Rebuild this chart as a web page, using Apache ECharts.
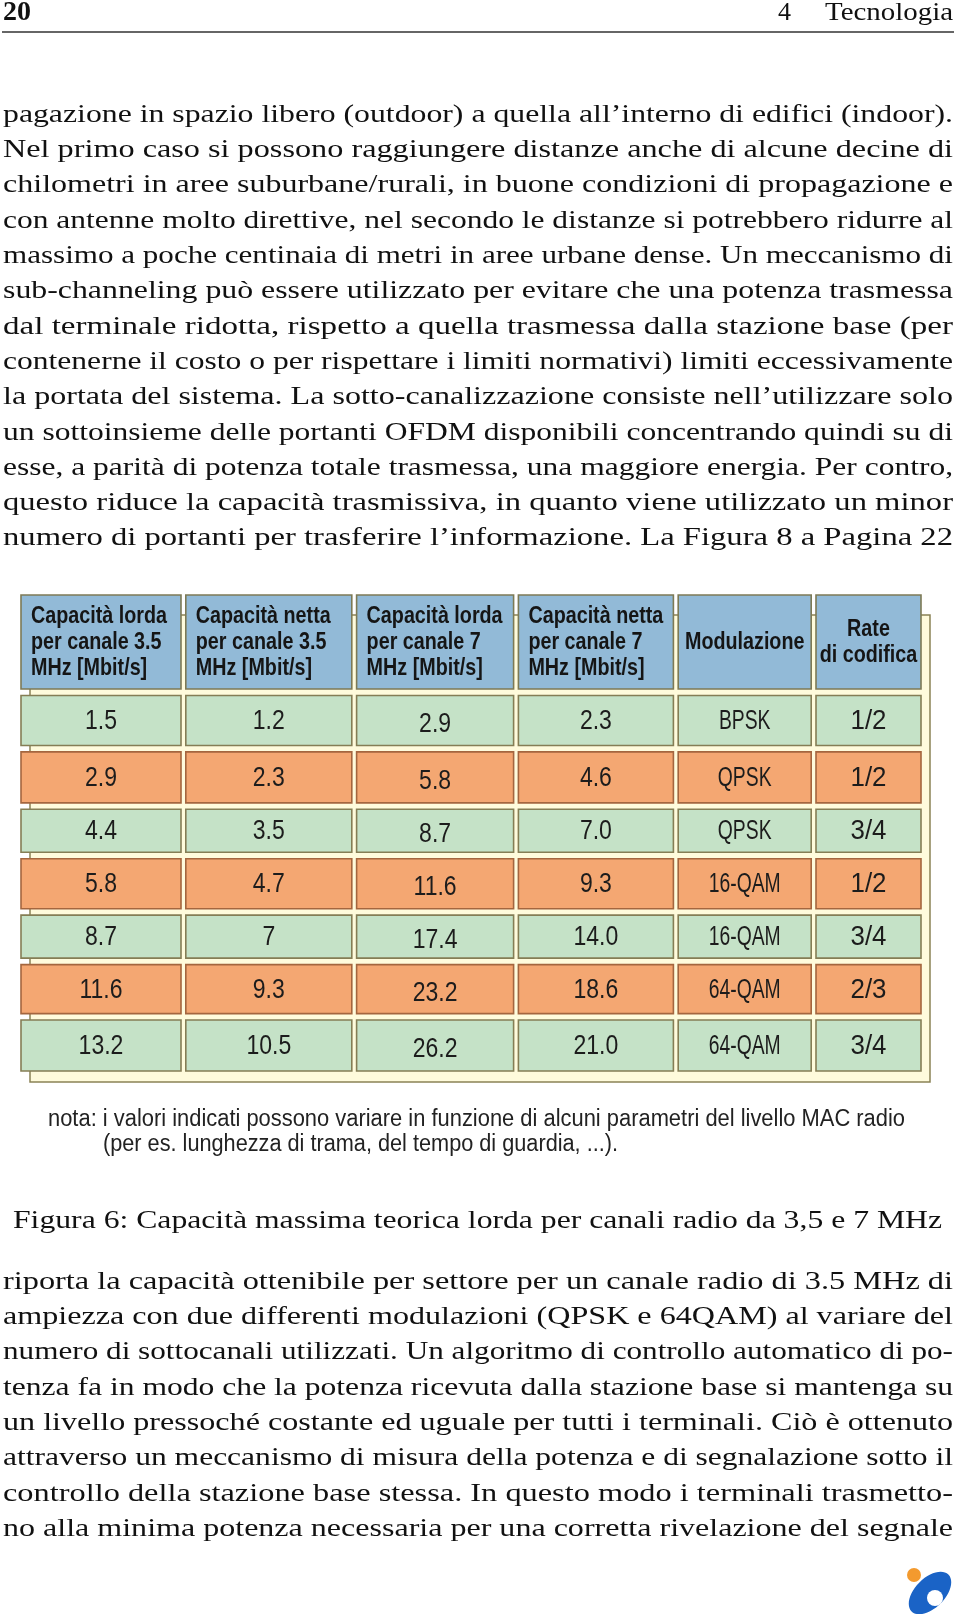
<!DOCTYPE html>
<html><head><meta charset="utf-8">
<script src="https://cdn.jsdelivr.net/npm/echarts@6/dist/echarts.min.js"></script>
<style>html,body{margin:0;padding:0;background:#fff}#c{width:960px;height:1614px}</style>
</head><body><div id="c"></div>
<script>
// ---------- text content ----------
const pageNumber = '20';
const runningChapter = '4';
const runningTitle = 'Tecnologia';
const textAbove = [
  'pagazione in spazio libero (outdoor) a quella all\u2019interno di edifici (indoor).',
  'Nel primo caso si possono raggiungere distanze anche di alcune decine di',
  'chilometri in aree suburbane/rurali, in buone condizioni di propagazione e',
  'con antenne molto direttive, nel secondo le distanze si potrebbero ridurre al',
  'massimo a poche centinaia di metri in aree urbane dense. Un meccanismo di',
  'sub-channeling pu\u00f2 essere utilizzato per evitare che una potenza trasmessa',
  'dal terminale ridotta, rispetto a quella trasmessa dalla stazione base (per',
  'contenerne il costo o per rispettare i limiti normativi) limiti eccessivamente',
  'la portata del sistema. La sotto-canalizzazione consiste nell\u2019utilizzare solo',
  'un sottoinsieme delle portanti OFDM disponibili concentrando quindi su di',
  'esse, a parit\u00e0 di potenza totale trasmessa, una maggiore energia. Per contro,',
  'questo riduce la capacit\u00e0 trasmissiva, in quanto viene utilizzato un minor',
  'numero di portanti per trasferire l\u2019informazione. La Figura 8 a Pagina 22'
];
const caption = 'Figura 6: Capacit\u00e0 massima teorica lorda per canali radio da 3,5 e 7 MHz';
const textBelow = [
  'riporta la capacit\u00e0 ottenibile per settore per un canale radio di 3.5 MHz di',
  'ampiezza con due differenti modulazioni (QPSK e 64QAM) al variare del',
  'numero di sottocanali utilizzati. Un algoritmo di controllo automatico di po-',
  'tenza fa in modo che la potenza ricevuta dalla stazione base si mantenga su',
  'un livello pressoch\u00e9 costante ed uguale per tutti i terminali. Ci\u00f2 \u00e8 ottenuto',
  'attraverso un meccanismo di misura della potenza e di segnalazione sotto il',
  'controllo della stazione base stessa. In questo modo i terminali trasmetto-',
  'no alla minima potenza necessaria per una corretta rivelazione del segnale'
];
const noteLines = [
  'nota: i valori indicati possono variare in funzione di alcuni parametri del livello MAC radio',
  '(per es. lunghezza di trama, del tempo di guardia, ...).'
];

// ---------- table data ----------
const headers = [
  'Capacit\u00e0 lorda\nper canale 3.5\nMHz [Mbit/s]',
  'Capacit\u00e0 netta\nper canale 3.5\nMHz [Mbit/s]',
  'Capacit\u00e0 lorda\nper canale 7\nMHz [Mbit/s]',
  'Capacit\u00e0 netta\nper canale 7\nMHz [Mbit/s]',
  'Modulazione',
  'Rate\ndi codifica'
];
const lorda35 = ['1.5', '2.9', '4.4', '5.8', '8.7', '11.6', '13.2'];
const netta35 = ['1.2', '2.3', '3.5', '4.7', '7', '9.3', '10.5'];
const lorda7  = ['2.9', '5.8', '8.7', '11.6', '17.4', '23.2', '26.2'];
const netta7  = ['2.3', '4.6', '7.0', '9.3', '14.0', '18.6', '21.0'];
const modulazione = ['BPSK', 'QPSK', 'QPSK', '16-QAM', '16-QAM', '64-QAM', '64-QAM'];
const rateCodifica = ['1/2', '1/2', '3/4', '1/2', '3/4', '2/3', '3/4'];

// ---------- layout (styles / sizes) ----------
const colW = [160, 166, 157, 155, 133, 105];
const colGap = 4.8;
const rowH = [94, 50, 51, 43, 50, 43, 49, 51];
const rowGap = 6.43;
const colStart = []; { let s = 0; colW.forEach(w => { colStart.push(s); s += w + colGap; }); }
const rowStart = []; { let s = 0; rowH.forEach(h => { rowStart.push(s); s += h + rowGap; }); }
const tableW = colStart[5] + colW[5];
const tableH = rowStart[7] + rowH[7];

const mctx = document.createElement('canvas').getContext('2d');
function measure(t, font) { mctx.font = font; return mctx.measureText(t).width; }
function capHeight(font) { mctx.font = font; const m = mctx.measureText('H'); return m.actualBoundingBoxAscent || 0; }
function hasFont(name) {
  const s = 'abcdefghijklmnopqrstuvwxyzABCDEFGHIJKLMNOP0123456789';
  return ['monospace', 'serif', 'sans-serif'].some(g => measure(s, '40px "' + name + '",' + g) !== measure(s, '40px ' + g));
}
function pick(list, generic) {
  for (const n of list) if (hasFont(n)) return '"' + n + '",' + generic;
  return generic;
}
const SERIF = pick(['Liberation Serif', 'Tinos', 'Times New Roman', 'Nimbus Roman', 'FreeSerif', 'Noto Serif', 'DejaVu Serif'], 'serif');
const SANS = pick(['Liberation Sans Narrow', 'Arial Narrow', 'Liberation Sans', 'Arimo', 'Arial', 'Roboto', 'Noto Sans', 'DejaVu Sans Condensed'], 'sans-serif');

// body size chosen so capitals are ~17px tall, like the reference
let bodySize = 26;
{ const ch = capHeight('100px ' + SERIF); if (ch > 40) bodySize = Math.round(17 / (ch / 100) * 2) / 2; }
const bodyFont = bodySize + 'px ' + SERIF;

function fitText(t, x0, x1, midY, font, fill) {
  const w = measure(t, font);
  return {
    type: 'text', x: x0, y: midY, scaleX: (x1 - x0) / w, z: 5,
    style: { text: t, font: font, fill: fill, align: 'left', verticalAlign: 'middle' }
  };
}

const graphics = [];
// running head
graphics.push({ type: 'text', x: 3, y: 13, z: 5, style: { text: pageNumber, font: 'bold ' + (bodySize + 2) + 'px ' + SERIF, fill: '#111', verticalAlign: 'middle' } });
graphics.push({ type: 'text', x: 778, y: 13, z: 5, style: { text: runningChapter, font: bodyFont, fill: '#111', verticalAlign: 'middle' } });
graphics.push(fitText(runningTitle, 825, 953, 13, bodyFont, '#111'));
graphics.push({ type: 'line', z: 5, shape: { x1: 2, y1: 32, x2: 954, y2: 32 }, style: { stroke: '#333', lineWidth: 1.6 } });
// paragraphs
textAbove.forEach((t, i) => graphics.push(fitText(t, 3, 953, 115 + i * 35.3, bodyFont, '#111')));
textBelow.forEach((t, i) => graphics.push(fitText(t, 3, 953, 1282 + i * 35.3, bodyFont, '#111')));
graphics.push(fitText(caption, 13, 942, 1221, bodyFont, '#111'));
// note
const noteFont = '23px ' + SANS;
graphics.push(fitText(noteLines[0], 48, 905, 1120, noteFont, '#222'));
graphics.push(fitText(noteLines[1], 103, 618, 1145, noteFont, '#222'));
// cream panel behind the table
graphics.push({ type: 'rect', z: 0, shape: { x: 30, y: 615, width: 900, height: 467 }, style: { fill: '#fffbdc', stroke: '#8a8256', lineWidth: 1.5 } });
// logo
graphics.push({ type: 'ellipse', z: 5, x: 930, y: 1593, rotation: Math.PI / 4, shape: { cx: 0, cy: 0, rx: 26, ry: 15 }, style: { fill: '#1a63c6' } });
graphics.push({ type: 'circle', z: 6, shape: { cx: 935, cy: 1598, r: 8 }, style: { fill: '#ffffff' } });
graphics.push({ type: 'circle', z: 6, shape: { cx: 914, cy: 1575, r: 7 }, style: { fill: '#f39a2e' } });

// ---------- table cells ----------
const headFont = 'bold 24px ' + SANS;
const headScale = 136 / measure('Capacit\u00e0 lorda', headFont);
const cellFont = '27px ' + SANS;
const numScale = 32 / measure('1.5', cellFont);
const modScale = 72 / measure('16-QAM', cellFont);
const rateScale = 36 / measure('1/2', cellFont);
const colScale = [numScale, numScale, numScale, numScale, modScale, rateScale];

const columns = [lorda35, netta35, lorda7, netta7, modulazione, rateCodifica];
const cells = [];
headers.forEach((h, c) => cells.push({ value: [c, 0], text: h, kind: 'header' }));
for (let r = 0; r < lorda35.length; r++) {
  columns.forEach((col, c) => cells.push({ value: [c, r + 1], text: col[r], kind: r % 2 === 0 ? 'green' : 'orange' }));
}
const fills = { header: '#92bad7', green: '#c5e2c7', orange: '#f4a772' };
const strokes = { header: '#7d7a55', green: '#857e55', orange: '#a4663f' };

function renderItem(params, api) {
  const item = cells[params.dataIndex];
  const c = api.value(0), r = api.value(1);
  const p0 = api.coord([colStart[c], rowStart[r]]);
  const p1 = api.coord([colStart[c] + colW[c], rowStart[r] + rowH[r]]);
  const w = p1[0] - p0[0], h = p1[1] - p0[1];
  const children = [{
    type: 'rect', shape: { x: p0[0], y: p0[1], width: w, height: h },
    style: { fill: fills[item.kind], stroke: strokes[item.kind], lineWidth: 1.6 }
  }];
  if (item.kind === 'header') {
    const left = c < 4;
    children.push({
      type: 'text', x: left ? p0[0] + 10 : p0[0] + w / 2, y: p0[1] + h / 2, scaleX: headScale,
      style: { text: item.text, font: headFont, fill: '#151515', align: left ? 'left' : 'center', verticalAlign: 'middle', lineHeight: 26 }
    });
  } else {
    children.push({
      type: 'text', x: p0[0] + w / 2, y: p0[1] + h / 2 + (c === 2 ? 4 : 1), scaleX: colScale[c],
      style: { text: item.text, font: cellFont, fill: '#1c1c1c', align: 'center', verticalAlign: 'middle' }
    });
  }
  return { type: 'group', children: children };
}

const chart = echarts.init(document.getElementById('c'), null, { renderer: 'canvas' });
chart.setOption({
  animation: false,
  backgroundColor: '#ffffff',
  grid: { left: 21, top: 595, width: tableW, height: tableH },
  xAxis: { type: 'value', min: 0, max: tableW, show: false },
  yAxis: { type: 'value', min: 0, max: tableH, inverse: true, show: false },
  graphic: { elements: graphics },
  series: [{ type: 'custom', z: 10, renderItem: renderItem, data: cells, clip: false, silent: true }]
});
</script></body></html>
